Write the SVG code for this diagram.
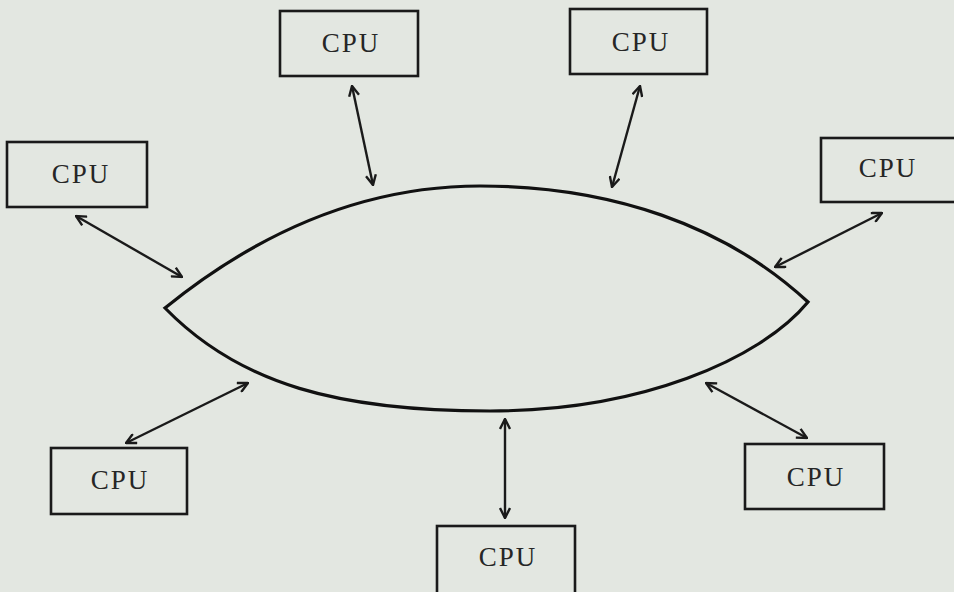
<svg xmlns="http://www.w3.org/2000/svg" width="954" height="592" viewBox="0 0 954 592">
<defs>
<style>
.box{fill:none;stroke:#1a1a1a;stroke-width:2.6}
.lbl{font-family:"Liberation Serif","Times New Roman",serif;font-size:27px;letter-spacing:2px;fill:#262626;text-anchor:middle}
.conn{stroke:#1a1a1a;stroke-width:2.4;fill:none;marker-start:url(#ah);marker-end:url(#ah)}
.ring{fill:none;stroke:#111;stroke-width:3.2}
</style>
<marker id="ah" viewBox="0 0 12 12" refX="11" refY="6" markerWidth="12" markerHeight="12" markerUnits="userSpaceOnUse" orient="auto-start-reverse">
<path d="M1,1 L11,6 L1,11" fill="none" stroke="#1a1a1a" stroke-width="2.4"/>
</marker>
</defs>
<rect width="954" height="592" fill="#e3e7e1"/>
<g id="ring">
<path class="ring" d="M165,308 C255,235 360,186 480,186 C610,186 725,225 808,302 C760,360 640,411 490,411 C340,411 240,385 165,308 Z"/>
</g>
<g id="connectors">
<line class="conn" x1="352" y1="86" x2="373" y2="185"/>
<line class="conn" x1="640" y1="86" x2="612" y2="187"/>
<line class="conn" x1="76" y1="216" x2="182" y2="277"/>
<line class="conn" x1="882" y1="213" x2="775" y2="267"/>
<line class="conn" x1="126" y1="443" x2="248" y2="383"/>
<line class="conn" x1="505" y1="419" x2="505" y2="518"/>
<line class="conn" x1="706" y1="383" x2="807" y2="438"/>
</g>
<g id="cpu1"><rect class="box" x="280" y="11" width="138" height="65"/><text class="lbl" x="351" y="52">CPU</text></g>
<g id="cpu2"><rect class="box" x="570" y="9" width="137" height="65"/><text class="lbl" x="641" y="51">CPU</text></g>
<g id="cpu3"><rect class="box" x="7" y="142" width="140" height="65"/><text class="lbl" x="81" y="183">CPU</text></g>
<g id="cpu4"><rect class="box" x="821" y="138" width="140" height="64"/><text class="lbl" x="888" y="177">CPU</text></g>
<g id="cpu5"><rect class="box" x="51" y="448" width="136" height="66"/><text class="lbl" x="120" y="489">CPU</text></g>
<g id="cpu6"><rect class="box" x="437" y="526" width="138" height="70"/><text class="lbl" x="508" y="566">CPU</text></g>
<g id="cpu7"><rect class="box" x="745" y="444" width="139" height="65"/><text class="lbl" x="816" y="486">CPU</text></g>
</svg>
